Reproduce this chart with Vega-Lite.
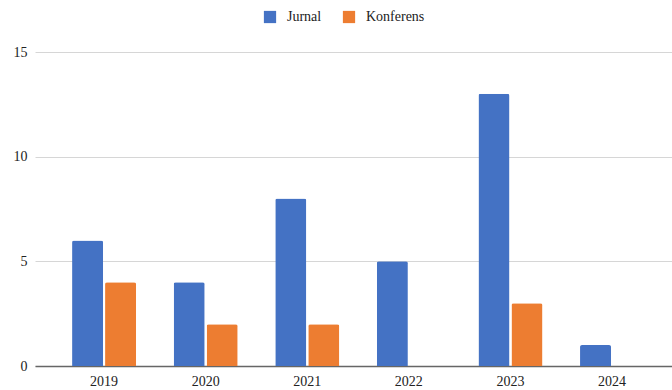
{
  "$schema": "https://vega.github.io/schema/vega-lite/v6.json",
  "width": 637,
  "height": 314,
  "autosize": {"type": "none"},
  "padding": {"left": 35, "top": 52, "right": 0, "bottom": 24},
  "background": "white",
  "config": {
    "view": {"stroke": null},
    "font": "'Times New Roman', 'Liberation Serif', serif",
    "axis": {"labelFont": "'Times New Roman', 'Liberation Serif', serif"},
    "legend": {"labelFont": "'Times New Roman', 'Liberation Serif', serif"}
  },
  "data": {
    "values": [
      {"year": "2019", "type": "Jurnal", "count": 6},
      {"year": "2019", "type": "Konferens", "count": 4},
      {"year": "2020", "type": "Jurnal", "count": 4},
      {"year": "2020", "type": "Konferens", "count": 2},
      {"year": "2021", "type": "Jurnal", "count": 8},
      {"year": "2021", "type": "Konferens", "count": 2},
      {"year": "2022", "type": "Jurnal", "count": 5},
      {"year": "2022", "type": "Konferens", "count": 0},
      {"year": "2023", "type": "Jurnal", "count": 13},
      {"year": "2023", "type": "Konferens", "count": 3},
      {"year": "2024", "type": "Jurnal", "count": 1},
      {"year": "2024", "type": "Konferens", "count": 0}
    ]
  },
  "mark": {"type": "bar", "cornerRadiusEnd": 2},
  "encoding": {
    "x": {
      "field": "year",
      "type": "nominal",
      "scale": {"paddingInner": 0.37, "paddingOuter": 0.32, "align": 0.57},
      "axis": {
        "title": null,
        "labelAngle": 0,
        "labelFontSize": 14,
        "labelColor": "#222",
        "ticks": false,
        "domainColor": "#666",
        "domainWidth": 1.5,
        "labelPadding": 8
      }
    },
    "xOffset": {
      "field": "type",
      "type": "nominal",
      "scale": {"paddingInner": 0.06}
    },
    "y": {
      "field": "count",
      "type": "quantitative",
      "scale": {"domain": [0, 15], "nice": false},
      "axis": {
        "title": null,
        "values": [0, 5, 10, 15],
        "labelFontSize": 14,
        "labelColor": "#222",
        "ticks": false,
        "domain": false,
        "gridColor": "#d6d6d6",
        "labelPadding": 8
      }
    },
    "color": {
      "field": "type",
      "type": "nominal",
      "scale": {"domain": ["Jurnal", "Konferens"], "range": ["#4472C4", "#ED7D31"]},
      "legend": {
        "title": null,
        "orient": "none",
        "direction": "horizontal",
        "legendX": 228,
        "legendY": -42,
        "symbolType": "square",
        "symbolSize": 150,
        "symbolStrokeWidth": 0,
        "symbolOpacity": 1,
        "labelFontSize": 14,
        "labelColor": "#222",
        "labelOffset": 10,
        "columnPadding": 20
      }
    }
  }
}
